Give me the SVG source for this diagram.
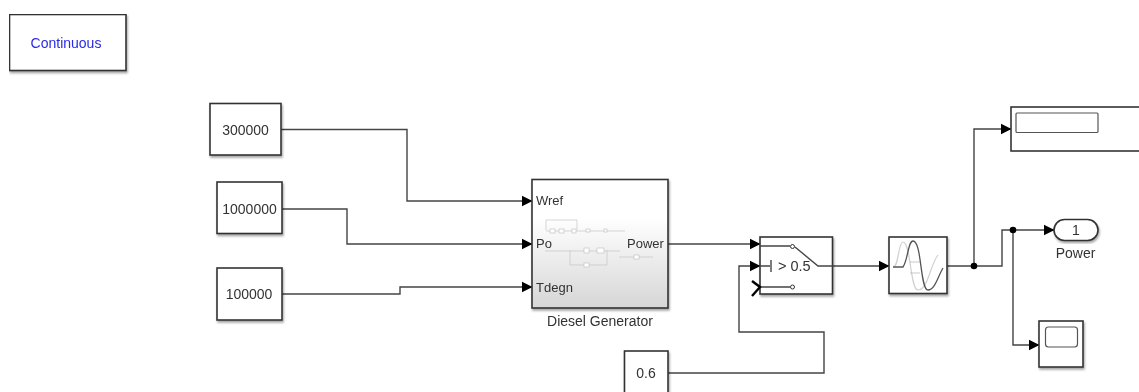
<svg xmlns="http://www.w3.org/2000/svg" width="1139" height="392" viewBox="0 0 1139 392">
<style>
text{font-family:"Liberation Sans",Arial,sans-serif;font-size:14px;fill:#333;text-anchor:middle}
.l{text-anchor:start;font-size:13px}
.b{fill:#fff;stroke:#333;stroke-width:1.6}
.s{filter:url(#sh)}
.c{fill:none;stroke:#444;stroke-width:1.4}
.m{fill:none;stroke:#c4c4c4;stroke-width:.7}
</style>
<defs>
<filter id="sh" x="-10%" y="-10%" width="120%" height="125%"><feDropShadow dx="1" dy="2" stdDeviation="1.2" flood-color="#000" flood-opacity=".35"/></filter>
<filter id="soft" x="0" y="0" width="100%" height="100%"><feGaussianBlur stdDeviation=".6"/></filter>
<linearGradient id="g" x1="0" y1="0" x2="0" y2="1"><stop offset=".3" stop-color="#fff"/><stop offset="1" stop-color="#d6d6d6"/></linearGradient>
<marker id="a" markerUnits="userSpaceOnUse" markerWidth="12" markerHeight="13" refX="10.500" refY="6.500" orient="auto"><path d="M0 1 L11 6.500 L0 12Z" fill="#000"/></marker>
</defs>
<rect width="1139" height="392" fill="#fff"/>
<g filter="url(#soft)">
<g id="connectors" class="connectors">
<path class="c" marker-end="url(#a)" d="M281 129.500H407V201H532"/>
<path class="c" marker-end="url(#a)" d="M282 209H347V244H532"/>
<path class="c" marker-end="url(#a)" d="M282 294H400V287H532"/>
<path class="c" marker-end="url(#a)" d="M668 244H760"/>
<path class="c" marker-end="url(#a)" d="M668 373H824V332H739V266H760"/>
<path class="c" marker-end="url(#a)" d="M833 266H889"/>
<path class="c" marker-end="url(#a)" d="M947 266H974V129H1011"/>
<path class="c" marker-end="url(#a)" d="M974 266H1002V230H1054"/>
<path class="c" marker-end="url(#a)" d="M1013 230V345H1039"/>
<circle cx="974" cy="266" r="3.300" fill="#000"/>
<circle cx="1013" cy="230" r="3.300" fill="#000"/>
</g>
<g id="continuous"><rect class="b s" x="9.500" y="14.500" width="116.500" height="56"/><text x="66" y="47.500" style="fill:#2a2ae8">Continuous</text></g>
<g id="const300000"><rect class="b s" x="210" y="103.500" width="71" height="51.500"/><text x="245.500" y="135">300000</text></g>
<g id="const1000000"><rect class="b s" x="217" y="182" width="65" height="51.500"/><text x="249.500" y="213.500">1000000</text></g>
<g id="const100000"><rect class="b s" x="217" y="268" width="65" height="52"/><text x="249" y="299">100000</text></g>
<g id="diesel">
<rect class="s" x="532" y="179.500" width="136" height="128.500" fill="url(#g)" stroke="#333" stroke-width="1.600"/>
<path class="m" d="M546 230V220H577V230M546 231H625M570 250V265H607V250M545 251H620M619 257H653"/>
<g fill="#fff" stroke="#c4c4c4" stroke-width=".7"><rect x="550" y="229" width="5" height="4"/><rect x="559" y="229" width="5" height="4"/><rect x="572" y="229" width="4" height="4"/><rect x="586" y="229" width="4" height="3"/><rect x="604" y="229" width="3" height="3"/><rect x="584" y="248" width="5" height="5"/><rect x="597" y="248" width="7" height="5"/><rect x="584" y="263" width="5" height="4"/><rect x="634" y="255" width="5" height="4"/></g>
<text class="l" x="536" y="205">Wref</text>
<text class="l" x="536" y="248">Po</text>
<text class="l" x="536" y="292">Tdegn</text>
<text class="l" x="627" y="248">Power</text>
<text x="600" y="325.500">Diesel Generator</text>
</g>
<g id="switch">
<rect class="b s" x="760" y="237" width="72.500" height="57"/>
<path class="c" d="M760 246H790M760 266H770M760 287H790M795 247L818 266H833M771 260V272"/>
<circle cx="792.500" cy="246.500" r="2" fill="#fff" stroke="#333"/>
<circle cx="792.500" cy="287" r="2" fill="#fff" stroke="#333"/>
<path d="M752 281L760 287L752 296" fill="none" stroke="#000" stroke-width="2.400"/>
<text x="778" y="271" class="l" style="font-size:14.500px">&gt; 0.5</text>
</g>
<g id="filter">
<rect class="b s" x="889" y="237" width="58" height="56.500"/>
<path fill="none" stroke="#d0d0d0" stroke-width="1.200" d="M893 267C899 267 898 242 903 242C911 242 910 290 918 290C928 290 930 265 938 255"/>
<path fill="none" stroke="#bbb" stroke-width=".8" d="M910 262H920M910 273H920"/>
<path fill="none" stroke="#555" stroke-width="1.300" d="M893 267H903C908 260 908 241 913 241C922 241 920 290 928 290C935 290 938 276 943 268"/>
</g>
<g id="display"><rect class="b" x="1011" y="107" width="140" height="44"/><rect x="1016" y="113" width="82" height="19.500" rx="1" fill="#fff" stroke="#555" stroke-width="1.200"/></g>
<g id="outport"><rect x="1054" y="219.500" width="44" height="21" rx="10.500" class="b s"/><text x="1076" y="235">1</text><text x="1075.500" y="257.500">Power</text></g>
<g id="scope"><rect class="b s" x="1039" y="321" width="44" height="46"/><rect x="1045.500" y="327" width="32" height="20" rx="3" fill="#fff" stroke="#555" stroke-width="1.200"/></g>
<g id="const06"><rect class="b s" x="624.500" y="351" width="43.500" height="44"/><text x="646" y="378">0.6</text></g>
</g>
</svg>
